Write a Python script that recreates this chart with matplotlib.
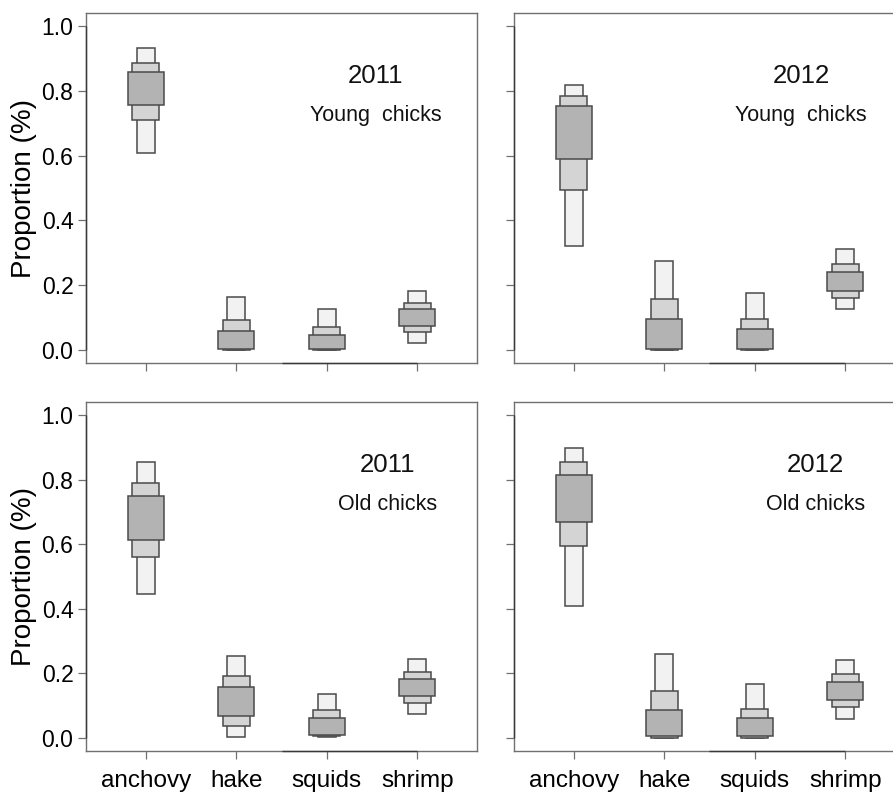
import matplotlib
matplotlib.use("Agg")
import matplotlib.pyplot as plt

plt.rcParams['font.family'] = ['Liberation Sans', 'DejaVu Sans']

categories = ["anchovy", "hake", "squids", "shrimp"]
y_ticks = [0.0, 0.2, 0.4, 0.6, 0.8, 1.0]
y_tick_labels = ["0.0", "0.2", "0.4", "0.6", "0.8", "1.0"]

# credible intervals (low, high) per prey: 95%, 75%, 50%
young2011_ci95 = [(0.608, 0.933), (0.000, 0.163), (0.000, 0.126), (0.021, 0.181)]
young2011_ci75 = [(0.710, 0.887), (0.001, 0.093), (0.001, 0.072), (0.056, 0.146)]
young2011_ci50 = [(0.757, 0.859), (0.004, 0.060), (0.004, 0.045), (0.074, 0.128)]

young2012_ci95 = [(0.322, 0.818), (0.000, 0.276), (0.000, 0.175), (0.128, 0.313)]
young2012_ci75 = [(0.493, 0.784), (0.001, 0.159), (0.001, 0.097), (0.161, 0.266)]
young2012_ci50 = [(0.588, 0.752), (0.004, 0.095), (0.004, 0.064), (0.181, 0.240)]

old2011_ci95 = [(0.445, 0.855), (0.003, 0.253), (0.002, 0.136), (0.074, 0.244)]
old2011_ci75 = [(0.559, 0.790), (0.038, 0.192), (0.005, 0.086), (0.107, 0.205)]
old2011_ci50 = [(0.614, 0.748), (0.068, 0.159), (0.009, 0.061), (0.130, 0.182)]

old2012_ci95 = [(0.408, 0.899), (0.000, 0.261), (0.000, 0.166), (0.059, 0.242)]
old2012_ci75 = [(0.594, 0.853), (0.001, 0.146), (0.001, 0.090), (0.095, 0.197)]
old2012_ci50 = [(0.670, 0.813), (0.005, 0.088), (0.005, 0.061), (0.118, 0.172)]

panel_years = ["2011", "2012", "2011", "2012"]
panel_groups = ["Young  chicks", "Young  chicks", "Old chicks", "Old chicks"]
panel_data = [
    (young2011_ci95, young2011_ci75, young2011_ci50),
    (young2012_ci95, young2012_ci75, young2012_ci50),
    (old2011_ci95, old2011_ci75, old2011_ci50),
    (old2012_ci95, old2012_ci75, old2012_ci50),
]
label_x = [3.54, 3.51, 3.67, 3.67]

level_widths = [0.2, 0.3, 0.4]
level_colors = ["#f2f2f2", "#d4d4d4", "#b3b3b3"]

W, H = 893, 793
fig = plt.figure(figsize=(W / 100, H / 100), dpi=100)

# axes rectangles in pixel units (left, top, right, bottom)
rects = [(86, 13, 477, 363), (514, 13, 905, 363),
         (86, 402, 477, 751), (514, 402, 905, 751)]

spine_col = "#707070"
edge_col = "#4a4a4a"

for i, (l, t, r, b) in enumerate(rects):
    ax = fig.add_axes([l / W, 1 - b / H, (r - l) / W, (b - t) / H])
    xs = list(range(1, len(categories) + 1))
    for lev, (ci, w, c) in enumerate(zip(panel_data[i], level_widths, level_colors)):
        lows = [p[0] for p in ci]
        heights = [p[1] - p[0] for p in ci]
        ax.bar(xs, heights, bottom=lows, width=w, color=c,
               edgecolor=edge_col, linewidth=1.1, zorder=2 + lev)
    ax.set_xlim(0.34, 4.66)
    ax.set_ylim(-0.04, 1.04)
    ax.set_yticks(y_ticks)
    ax.set_xticks(xs)
    for s in ax.spines.values():
        s.set_color(spine_col)
        s.set_linewidth(1.0)
    ax.tick_params(axis='both', direction='out', length=6, width=0.9,
                   color=spine_col, labelsize=16.5, pad=3)
    # darker axis segments (as drawn in the original)
    ax.plot([2.5, 4.0], [-0.04, -0.04], color="#3a3a3a", lw=1.0,
            clip_on=False, zorder=10, solid_capstyle='butt')
    ax.plot([0.34, 0.34], [0.0, 1.0], color="#3a3a3a", lw=1.0,
            clip_on=False, zorder=10, solid_capstyle='butt')
    if i % 2 == 0:
        ax.set_yticklabels(y_tick_labels)
        ax.set_ylabel("Proportion (%)", fontsize=20, labelpad=3)
    else:
        ax.set_yticklabels([])
    if i >= 2:
        ax.set_xticklabels(categories, fontsize=17.5)
        ax.tick_params(axis='x', pad=8)
    else:
        ax.set_xticklabels([])
    ax.text(label_x[i], 0.845, panel_years[i], fontsize=18.5,
            ha='center', va='center', color="#111111")
    ax.text(label_x[i], 0.724, panel_groups[i], fontsize=15.5,
            ha='center', va='center', color="#111111")

fig.savefig("out.png", dpi=100)
